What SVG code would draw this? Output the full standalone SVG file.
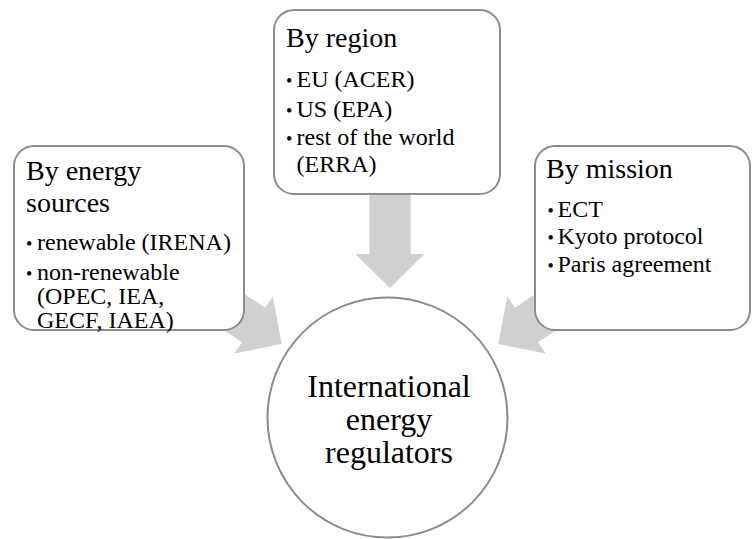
<svg xmlns="http://www.w3.org/2000/svg" xmlns:xlink="http://www.w3.org/1999/xlink" width="752" height="539" viewBox="0 0 752 539">
<style>
.box{fill:#ffffff;stroke:#8c8c8c;stroke-width:2}
.arrow{fill:#d0d0d0;stroke:none}
.t{font-family:"Liberation Serif","Times New Roman",serif;fill:#000000}
.title{font-size:28px}
.item{font-size:24px}
.dot{font-size:18px}
.center{font-size:32px;text-anchor:middle}
</style>
<defs>
<path id="arr" d="M0,0 L-34,-34.5 L-34,-20.7 L-110,-20.7 L-110,20.7 L-34,20.7 L-34,34.5 Z"/>
</defs>
<rect width="752" height="539" fill="#ffffff"/>
<g id="connectors">
<use xlink:href="#arr" class="arrow" transform="translate(390,288) rotate(90)"/>
<use xlink:href="#arr" class="arrow" transform="translate(281.7,344) rotate(34)"/>
<use xlink:href="#arr" class="arrow" transform="translate(498.3,344) rotate(146)"/>
</g>
<g id="node-sources">
<rect class="box" x="14" y="146" width="230" height="184" rx="20" ry="20"/>
<text class="t title" x="26" y="180">By energy</text>
<text class="t title" x="26" y="211.5">sources</text>
<text class="t dot" x="26" y="250">•</text>
<text class="t item" x="37" y="250">renewable (IRENA)</text>
<text class="t dot" x="26" y="280">•</text>
<text class="t item" x="37" y="280">non-renewable</text>
<text class="t item" x="37" y="304">(OPEC, IEA,</text>
<text class="t item" x="37" y="328">GECF, IAEA)</text>
</g>
<g id="node-region">
<rect class="box" x="274" y="10" width="226" height="184" rx="20" ry="20"/>
<text class="t title" x="286" y="47">By region</text>
<text class="t dot" x="286" y="87">•</text>
<text class="t item" x="296.5" y="87">EU (ACER)</text>
<text class="t dot" x="286" y="117">•</text>
<text class="t item" x="296.5" y="117">US (EPA)</text>
<text class="t dot" x="286" y="145">•</text>
<text class="t item" x="296.5" y="145">rest of the world</text>
<text class="t item" x="296.5" y="171.5">(ERRA)</text>
</g>
<g id="node-mission">
<rect class="box" x="535" y="146" width="215" height="184" rx="20" ry="20"/>
<text class="t title" x="546" y="178">By mission</text>
<text class="t dot" x="547.5" y="216.5">•</text>
<text class="t item" x="557.5" y="216.5">ECT</text>
<text class="t dot" x="547.5" y="243.5">•</text>
<text class="t item" x="557.5" y="243.5">Kyoto protocol</text>
<text class="t dot" x="547.5" y="271.5">•</text>
<text class="t item" x="557.5" y="271.5">Paris agreement</text>
</g>
<g id="node-center">
<circle class="box" cx="387.5" cy="417.5" r="120"/>
<text class="t center" x="389" y="397">International</text>
<text class="t center" x="389" y="429.5">energy</text>
<text class="t center" x="389" y="462.5">regulators</text>
</g>
</svg>
